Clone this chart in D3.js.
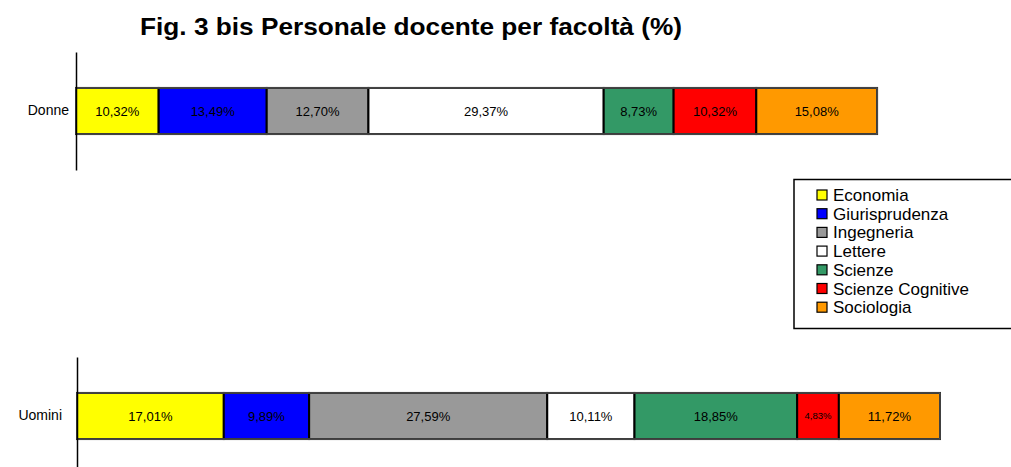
<!DOCTYPE html>
<html>
<head>
<meta charset="utf-8">
<script src="https://cdnjs.cloudflare.com/ajax/libs/d3/7.8.5/d3.min.js"></script>
<style>
  body { margin: 0; background: #fff; }
  svg { display: block; }
</style>
</head>
<body>
<div id="chart"></div>
<script>
// Data
var facolta = ["Economia", "Giurisprudenza", "Ingegneria", "Lettere", "Scienze", "Scienze Cognitive", "Sociologia"];
var colori = ["#ffff00", "#0000ff", "#999999", "#ffffff", "#339966", "#ff0000", "#ff9900"];
var donne = [10.32, 13.49, 12.70, 29.37, 8.73, 10.32, 15.08];
var uomini = [17.01, 9.89, 27.59, 10.11, 18.85, 4.83, 11.72];
var titolo = "Fig. 3 bis Personale docente per facoltà (%)";

var width = 1011, height = 467;
var fmt = d3.format(".2f");

var svg = d3.select("#chart").append("svg")
    .attr("width", width)
    .attr("height", height);

svg.append("text")
    .attr("x", 140)
    .attr("y", 35)
    .attr("textLength", 542)
    .attr("lengthAdjust", "spacingAndGlyphs")
    .style("font-family", "'Liberation Sans Narrow', 'Liberation Sans', Arial, sans-serif")
    .style("font-weight", "bold")
    .style("font-size", "24px")
    .attr("fill", "#000")
    .text(titolo);

var color = d3.scaleOrdinal().domain(facolta).range(colori);

// one panel per gender
var panels = [
  {name: "Donne", values: donne, x0: 76, x1: 877, y0: 52, y1: 170, pad: 7},
  {name: "Uomini", values: uomini, x0: 77, x1: 940, y0: 357, y1: 475, pad: 15}
];

panels.forEach(function(p) {
  var x = d3.scaleLinear().domain([0, 100]).range([p.x0, p.x1]);
  var y = d3.scaleBand().domain([p.name]).range([p.y0, p.y1])
      .paddingInner(0).paddingOuter(0.78);

  var cum = 0;
  var segs = p.values.map(function(v, i) {
    var s = {key: facolta[i], v: v, start: cum};
    cum += v;
    return s;
  });

  var g = svg.append("g");

  g.selectAll("rect.seg")
    .data(segs)
    .enter().append("rect")
      .attr("class", "seg")
      .attr("x", function(d) { return x(d.start); })
      .attr("y", y(p.name))
      .attr("width", function(d) { return x(d.start + d.v) - x(d.start); })
      .attr("height", y.bandwidth())
      .attr("fill", function(d) { return color(d.key); })
      .attr("stroke", "#000")
      .attr("stroke-width", 2);

  // outer frame
  g.append("rect")
    .attr("x", x(0))
    .attr("y", y(p.name))
    .attr("width", x(cum) - x(0))
    .attr("height", y.bandwidth())
    .attr("fill", "none")
    .attr("stroke", "#555")
    .attr("stroke-width", 1.5);

  g.selectAll("text.val")
    .data(segs)
    .enter().append("text")
      .attr("class", "val")
      .attr("x", function(d) { return x(d.start + d.v / 2); })
      .attr("y", y(p.name) + y.bandwidth() / 2)
      .attr("dy", "0.35em")
      .attr("text-anchor", "middle")
      .style("font-family", "'Liberation Sans', Arial, sans-serif")
      .style("font-size", function(d) {
        var w = x(d.start + d.v) - x(d.start);
        return (w < 50 ? 9.5 : 13) + "px";
      })
      .attr("fill", "#000")
      .text(function(d) { return fmt(d.v).replace(".", ",") + "%"; });

  var axis = d3.axisLeft(y).tickSize(0).tickSizeOuter(0).tickPadding(p.pad);
  var ax = g.append("g")
      .attr("transform", "translate(" + p.x0 + ",0)")
      .call(axis);
  ax.select(".domain").attr("stroke", "#000").attr("stroke-width", 1.5);
  ax.selectAll("text")
    .style("font-family", "'Liberation Sans', Arial, sans-serif")
    .style("font-size", "14px")
    .attr("fill", "#000");
});

// legend
var leg = svg.append("g");
leg.append("rect")
  .attr("x", 794)
  .attr("y", 179.5)
  .attr("width", 230)
  .attr("height", 149)
  .attr("fill", "#fff")
  .attr("stroke", "#000")
  .attr("stroke-width", 1.5);

var ly = d3.scalePoint().domain(facolta).range([201, 313.2]);

var items = leg.selectAll("g.item")
  .data(facolta)
  .enter().append("g")
    .attr("class", "item")
    .attr("transform", function(d) { return "translate(0," + ly(d) + ")"; });

items.append("rect")
  .attr("x", 817)
  .attr("y", -11)
  .attr("width", 10)
  .attr("height", 10)
  .attr("fill", function(d) { return color(d); })
  .attr("stroke", "#000")
  .attr("stroke-width", 1.2);

items.append("text")
  .attr("x", 833)
  .attr("y", 0)
  .style("font-family", "'Liberation Sans', Arial, sans-serif")
  .style("font-size", "17px")
  .attr("fill", "#000")
  .text(function(d) { return d; });
</script>
</body>
</html>
